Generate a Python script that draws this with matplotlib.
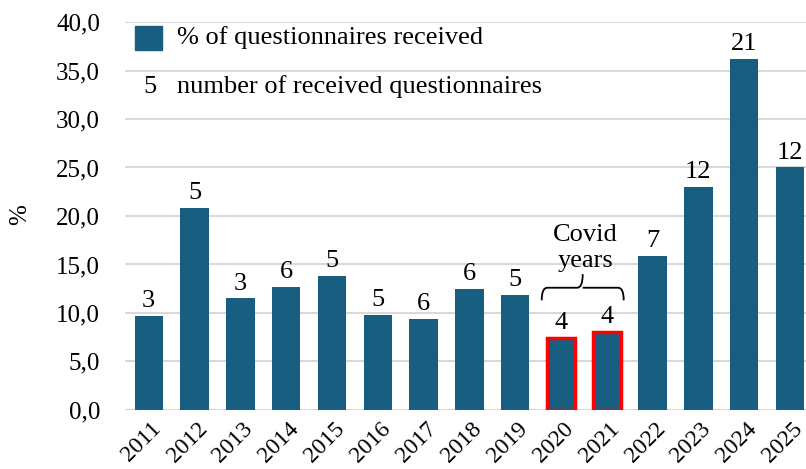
import numpy as np
import matplotlib
matplotlib.use("Agg")
import matplotlib.pyplot as plt
import matplotlib.transforms as mtransforms
from matplotlib.patches import Rectangle, PathPatch
from matplotlib.path import Path
from matplotlib.ticker import FuncFormatter

years = ["2011", "2012", "2013", "2014", "2015", "2016", "2017", "2018",
         "2019", "2020", "2021", "2022", "2023", "2024", "2025"]
pct_received = [9.7, 20.8, 11.5, 12.7, 13.8, 9.8, 9.4, 12.5,
                11.9, 7.4, 8.0, 15.9, 23.0, 36.2, 25.0]
n_received = [3, 5, 3, 6, 5, 5, 6, 6, 5, 4, 4, 7, 12, 21, 12]
covid_years = ["2020", "2021"]

BAR_COLOR = "#175e80"
GRID_COLOR = "#d9d9d9"

plt.rcParams["font.family"] = ["Liberation Serif", "DejaVu Serif"]
plt.rcParams["font.size"] = 17

fig = plt.figure(figsize=(8.06, 4.69), dpi=100)
ax = fig.add_axes([0.155, 0.126, 0.845, 0.827])

x = np.arange(len(years))
bars = ax.bar(x, pct_received, width=0.62, color=BAR_COLOR, zorder=3)
for i, yr in enumerate(years):
    if yr in covid_years:
        bars[i].set_edgecolor("#ff0000")
        bars[i].set_linewidth(2.5)

for xi, v, n in zip(x, pct_received, n_received):
    ax.text(xi, v + 0.4, str(n), ha="center", va="bottom", fontsize=19, zorder=4)

ax.set_ylim(0, 40)
ax.set_xlim(-0.52, 14.35)
ax.set_yticks(np.arange(0, 41, 5))
ax.yaxis.set_major_formatter(FuncFormatter(lambda v, p: f"{v:.1f}".replace(".", ",")))
ax.set_xticks(x)
ax.set_xticklabels(years, rotation=45, ha="right", va="top", rotation_mode="anchor",
                   fontsize=17)
ax.tick_params(axis="y", length=0, labelsize=18, pad=18)
ax.tick_params(axis="x", length=0, pad=6)
shift = mtransforms.ScaledTranslation(2 / 100, 0, fig.dpi_scale_trans)
for lbl in ax.get_xticklabels():
    lbl.set_transform(lbl.get_transform() + shift)
ax.grid(axis="y", color=GRID_COLOR, linewidth=1.5, zorder=0)
for s in ax.spines.values():
    s.set_visible(False)
fig.text(20 / 806, 1 - 215 / 469, "%", rotation=90, ha="center", va="center", fontsize=18)

# curly brace over the covid years
i0 = years.index(covid_years[0]) - 0.42
i1 = years.index(covid_years[-1]) + 0.37
xm = (i0 + i1) / 2
y_end, y_mid, y_tip = 11.3, 12.6, 14.0
d = 0.12
verts = [(i0, y_end), (i0, y_mid), (i0 + d, y_mid),
         (xm - d, y_mid), (xm, y_mid), (xm, y_tip),
         (xm, y_mid), (xm + d, y_mid),
         (i1 - d, y_mid), (i1, y_mid), (i1, y_end)]
codes = [Path.MOVETO, Path.CURVE3, Path.CURVE3,
         Path.LINETO, Path.CURVE3, Path.CURVE3,
         Path.MOVETO, Path.LINETO,
         Path.LINETO, Path.CURVE3, Path.CURVE3]
ax.add_patch(PathPatch(Path(verts, codes), fill=False, lw=1.3, color="black", zorder=4))
ax.text(xm + 0.05, y_tip + 0.2, "Covid\nyears", ha="center", va="bottom", fontsize=19,
        linespacing=1.25, zorder=4)

# legend drawn by hand
fig.patches.append(Rectangle((135 / 806, 1 - 50 / 469), 27 / 806, 24 / 469,
                             transform=fig.transFigure, color=BAR_COLOR))
fig.text(177 / 806, 1 - 38 / 469, "% of questionnaires received", va="center", fontsize=19)
fig.text(150 / 806, 1 - 87 / 469, "5", va="center", ha="center", fontsize=19)
fig.text(177 / 806, 1 - 87 / 469, "number of received questionnaires", va="center", fontsize=19)

fig.savefig("out.png", dpi=100)
